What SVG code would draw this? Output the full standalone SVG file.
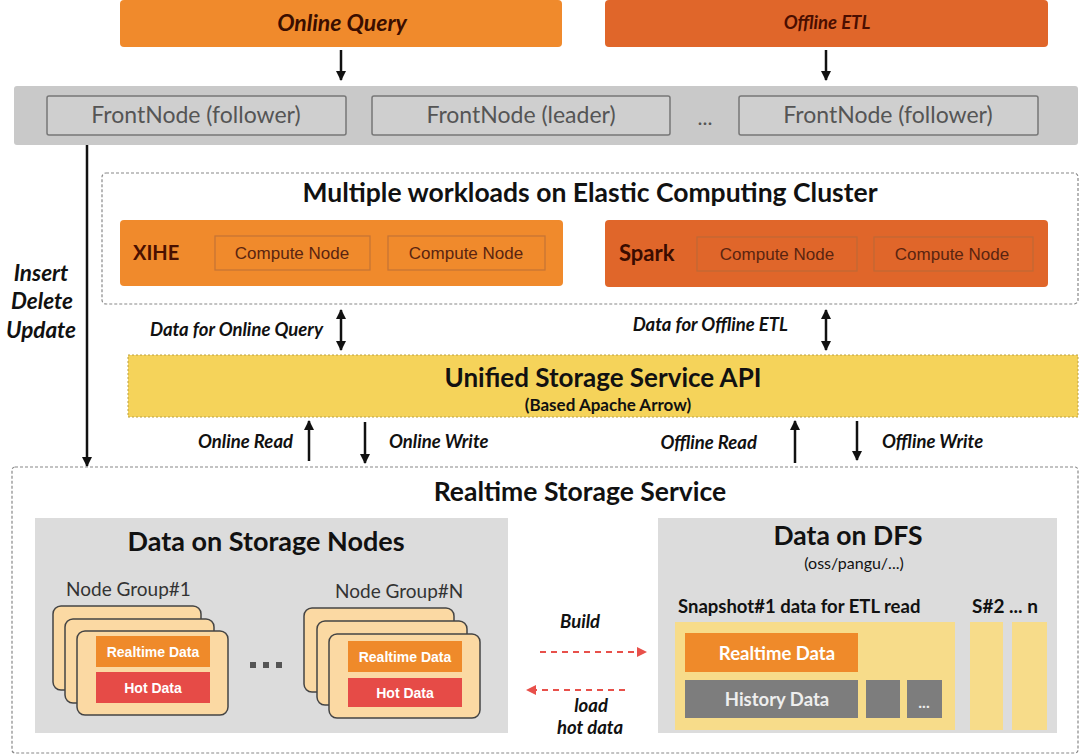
<svg xmlns="http://www.w3.org/2000/svg" width="1080" height="756" viewBox="0 0 1080 756">
<defs>
<marker id="ah" viewBox="0 0 10 10" refX="9" refY="5" markerWidth="4" markerHeight="4" orient="auto-start-reverse"><path d="M0,0 L10,5 L0,10 z" fill="#111"/></marker>
<marker id="rh" viewBox="0 0 10 10" refX="9" refY="5" markerWidth="5" markerHeight="5" orient="auto"><path d="M0,0 L10,5 L0,10 z" fill="#e8504a"/></marker>
</defs>
<style>
text{font-family:Lato,"Noto Sans",sans-serif}
.ttl{font-size:26.5px;font-weight:bold;fill:#111;text-anchor:middle}
.lbl{font-size:18.5px;font-weight:bold;font-style:italic;fill:#111}
.big{font-size:22.5px}
.fn{fill:#cfcfcf;stroke:#777;stroke-width:1.5}
.fnt{font-size:23px;fill:#555;text-anchor:middle}
.cn{fill:none;stroke:#b06a3a;stroke-width:1.2;stroke-opacity:0.7}
.cnt{font-family:"Liberation Sans",Arial,sans-serif;font-size:17px;fill:#5a2410;text-anchor:middle}
.dash{fill:none;stroke:#888;stroke-width:1.2;stroke-dasharray:3 2}
.card{fill:#fbd9a3;stroke:#444;stroke-width:1.5}
.rt{fill:#ef8a2a}
.hot{fill:#e64b47}
.wt{font-family:"Liberation Sans",Arial,sans-serif;font-size:14px;font-weight:bold;fill:#fff;text-anchor:middle}
.ng{font-size:19px;fill:#333}
.ar{stroke:#111;stroke-width:2.5;fill:none}
</style>

<g id="online-query">
<rect x="120" y="0" width="442" height="47" rx="4" fill="#f08a2c"/>
<text x="342" y="31" font-size="23" font-weight="bold" font-style="italic" fill="#3a0e00" text-anchor="middle">Online Query</text>
</g>
<g id="offline-etl">
<rect x="605" y="0" width="443" height="47" rx="4" fill="#e0662a"/>
<text x="827" y="29" font-size="18.5" font-weight="bold" font-style="italic" fill="#4a0e00" text-anchor="middle">Offline ETL</text>
</g>

<g id="frontnodes">
<rect x="14" y="86" width="1064" height="59" rx="3" fill="#c9c9c9"/>
<rect class="fn" x="47" y="96" width="299" height="39" rx="2"/>
<text class="fnt" x="196" y="123">FrontNode (follower)</text>
<rect class="fn" x="372" y="96" width="298" height="39" rx="2"/>
<text class="fnt" x="521" y="123">FrontNode (leader)</text>
<text x="705" y="125" font-size="21" fill="#555" text-anchor="middle">...</text>
<rect class="fn" x="739" y="96" width="299" height="39" rx="2"/>
<text class="fnt" x="888" y="123">FrontNode (follower)</text>
</g>

<g id="compute-cluster">
<rect class="dash" x="102" y="173" width="976" height="131" rx="4"/>
<text class="ttl" x="590" y="202">Multiple workloads on Elastic Computing Cluster</text>
</g>
<g id="xihe">
<rect x="120" y="220" width="443" height="66" rx="4" fill="#f08a2c"/>
<text x="133" y="260" font-family="Liberation Sans,Arial,sans-serif" font-size="20" font-weight="bold" fill="#4a1000">XIHE</text>
<rect class="cn" x="215" y="236" width="155" height="34"/>
<text class="cnt" x="292" y="259">Compute Node</text>
<rect class="cn" x="388" y="236" width="157" height="34"/>
<text class="cnt" x="466" y="259">Compute Node</text>
</g>
<g id="spark">
<rect x="605" y="220" width="443" height="67" rx="4" fill="#e0662a"/>
<text x="619" y="261" font-size="22" font-weight="bold" fill="#3a0c00">Spark</text>
<rect class="cn" x="697" y="237" width="160" height="34"/>
<text class="cnt" x="777" y="260">Compute Node</text>
<rect class="cn" x="874" y="237" width="159" height="34"/>
<text class="cnt" x="952" y="260">Compute Node</text>
</g>

<g id="unified-api">
<rect x="128" y="355" width="950" height="62" fill="#f5d35a" stroke="#bba040" stroke-width="1" stroke-dasharray="2 2"/>
<text class="ttl" x="603" y="387" style="font-size:26px">Unified Storage Service API</text>
<text x="608" y="411" font-size="17" font-weight="bold" fill="#111" text-anchor="middle">(Based Apache Arrow)</text>
</g>

<g id="realtime-storage">
<rect class="dash" x="12" y="467" width="1066" height="286" rx="3"/>
<text class="ttl" x="580" y="501">Realtime Storage Service</text>
</g>

<g id="storage-nodes">
<rect x="35" y="518" width="473" height="215" fill="#dcdcdc"/>
<text class="ttl" x="266" y="551" style="font-size:27px">Data on Storage Nodes</text>
<text class="ng" x="66" y="596">Node Group#1</text>
<rect class="card" x="53" y="606" width="148" height="84" rx="8"/>
<rect class="card" x="65" y="619" width="149" height="84" rx="8"/>
<rect class="card" x="77" y="631" width="151" height="84" rx="8"/>
<rect class="rt" x="96" y="636" width="114" height="31"/>
<text class="wt" x="153" y="657">Realtime Data</text>
<rect class="hot" x="96" y="672" width="114" height="31"/>
<text class="wt" x="153" y="693">Hot Data</text>
<g fill="#555"><rect x="250" y="662" width="6" height="6"/><rect x="263" y="662" width="6" height="6"/><rect x="276" y="662" width="6" height="6"/></g>
<text class="ng" x="335" y="598">Node Group#N</text>
<rect class="card" x="304" y="608" width="150" height="84" rx="8"/>
<rect class="card" x="317" y="621" width="150" height="84" rx="8"/>
<rect class="card" x="329" y="634" width="151" height="84" rx="8"/>
<rect class="rt" x="348" y="641" width="114" height="31"/>
<text class="wt" x="405" y="662">Realtime Data</text>
<rect class="hot" x="348" y="678" width="114" height="29"/>
<text class="wt" x="405" y="698">Hot Data</text>
</g>

<g id="dfs">
<rect x="658" y="518" width="399" height="215" fill="#dcdcdc"/>
<text class="ttl" x="848" y="545">Data on DFS</text>
<text x="854" y="569" font-size="16" fill="#111" text-anchor="middle">(oss/pangu/...)</text>
<text x="678" y="613" font-size="18.5" font-weight="bold" fill="#111">Snapshot#1 data for ETL read</text>
<text x="972" y="613" font-size="19" font-weight="bold" fill="#111">S#2 ... n</text>
<rect x="675" y="622" width="280" height="108" fill="#f7dc8a"/>
<rect x="970" y="622" width="33" height="108" fill="#f7dc8a"/>
<rect x="1012" y="622" width="35" height="108" fill="#f7dc8a"/>
<rect x="685" y="633" width="173" height="39" fill="#ef8a2a"/>
<text x="777" y="660" font-family="Liberation Sans,Arial,sans-serif" font-size="18.5" font-weight="bold" fill="#fff" text-anchor="middle">Realtime Data</text>
<rect x="685" y="680" width="173" height="38" fill="#7d7d7d"/>
<text x="777" y="706" font-family="Liberation Sans,Arial,sans-serif" font-size="18.5" font-weight="bold" fill="#eee" text-anchor="middle">History Data</text>
<rect x="866" y="680" width="34" height="38" fill="#7d7d7d"/>
<rect x="907" y="680" width="35" height="38" fill="#7d7d7d"/>
<text x="924" y="708" font-size="16" font-weight="bold" fill="#eee" text-anchor="middle">...</text>
</g>

<g id="connectors">
<line class="ar" x1="341" y1="50" x2="341" y2="80" marker-end="url(#ah)"/>
<line class="ar" x1="826" y1="50" x2="826" y2="80" marker-end="url(#ah)"/>
<line class="ar" x1="87" y1="145" x2="87" y2="466" marker-end="url(#ah)"/>
<text class="lbl big" x="41" y="281" text-anchor="middle">Insert</text>
<text class="lbl big" x="42" y="309" text-anchor="middle">Delete</text>
<text class="lbl big" x="41" y="338" text-anchor="middle">Update</text>
<line class="ar" x1="341" y1="310" x2="341" y2="350" marker-start="url(#ah)" marker-end="url(#ah)"/>
<text class="lbl" x="323" y="336" text-anchor="end">Data for Online Query</text>
<line class="ar" x1="826" y1="310" x2="826" y2="350" marker-start="url(#ah)" marker-end="url(#ah)"/>
<text class="lbl" x="788" y="331" text-anchor="end">Data for Offline ETL</text>
<line class="ar" x1="309" y1="461" x2="309" y2="421" marker-end="url(#ah)"/>
<text class="lbl" x="293" y="448" text-anchor="end">Online Read</text>
<line class="ar" x1="365" y1="422" x2="365" y2="463" marker-end="url(#ah)"/>
<text class="lbl" x="389" y="448">Online Write</text>
<line class="ar" x1="795" y1="463" x2="795" y2="421" marker-end="url(#ah)"/>
<text class="lbl" x="757" y="449" text-anchor="end">Offline Read</text>
<line class="ar" x1="857" y1="421" x2="857" y2="460" marker-end="url(#ah)"/>
<text class="lbl" x="882" y="448">Offline Write</text>
<line x1="540" y1="652" x2="646" y2="652" stroke="#e8504a" stroke-width="2" stroke-dasharray="6 5" marker-end="url(#rh)"/>
<text class="lbl" x="580" y="628" text-anchor="middle">Build</text>
<line x1="625" y1="690" x2="527" y2="690" stroke="#e8504a" stroke-width="2" stroke-dasharray="6 5" marker-end="url(#rh)"/>
<text class="lbl" x="591" y="712" text-anchor="middle">load</text>
<text class="lbl" x="590" y="734" text-anchor="middle">hot data</text>
</g>
</svg>
